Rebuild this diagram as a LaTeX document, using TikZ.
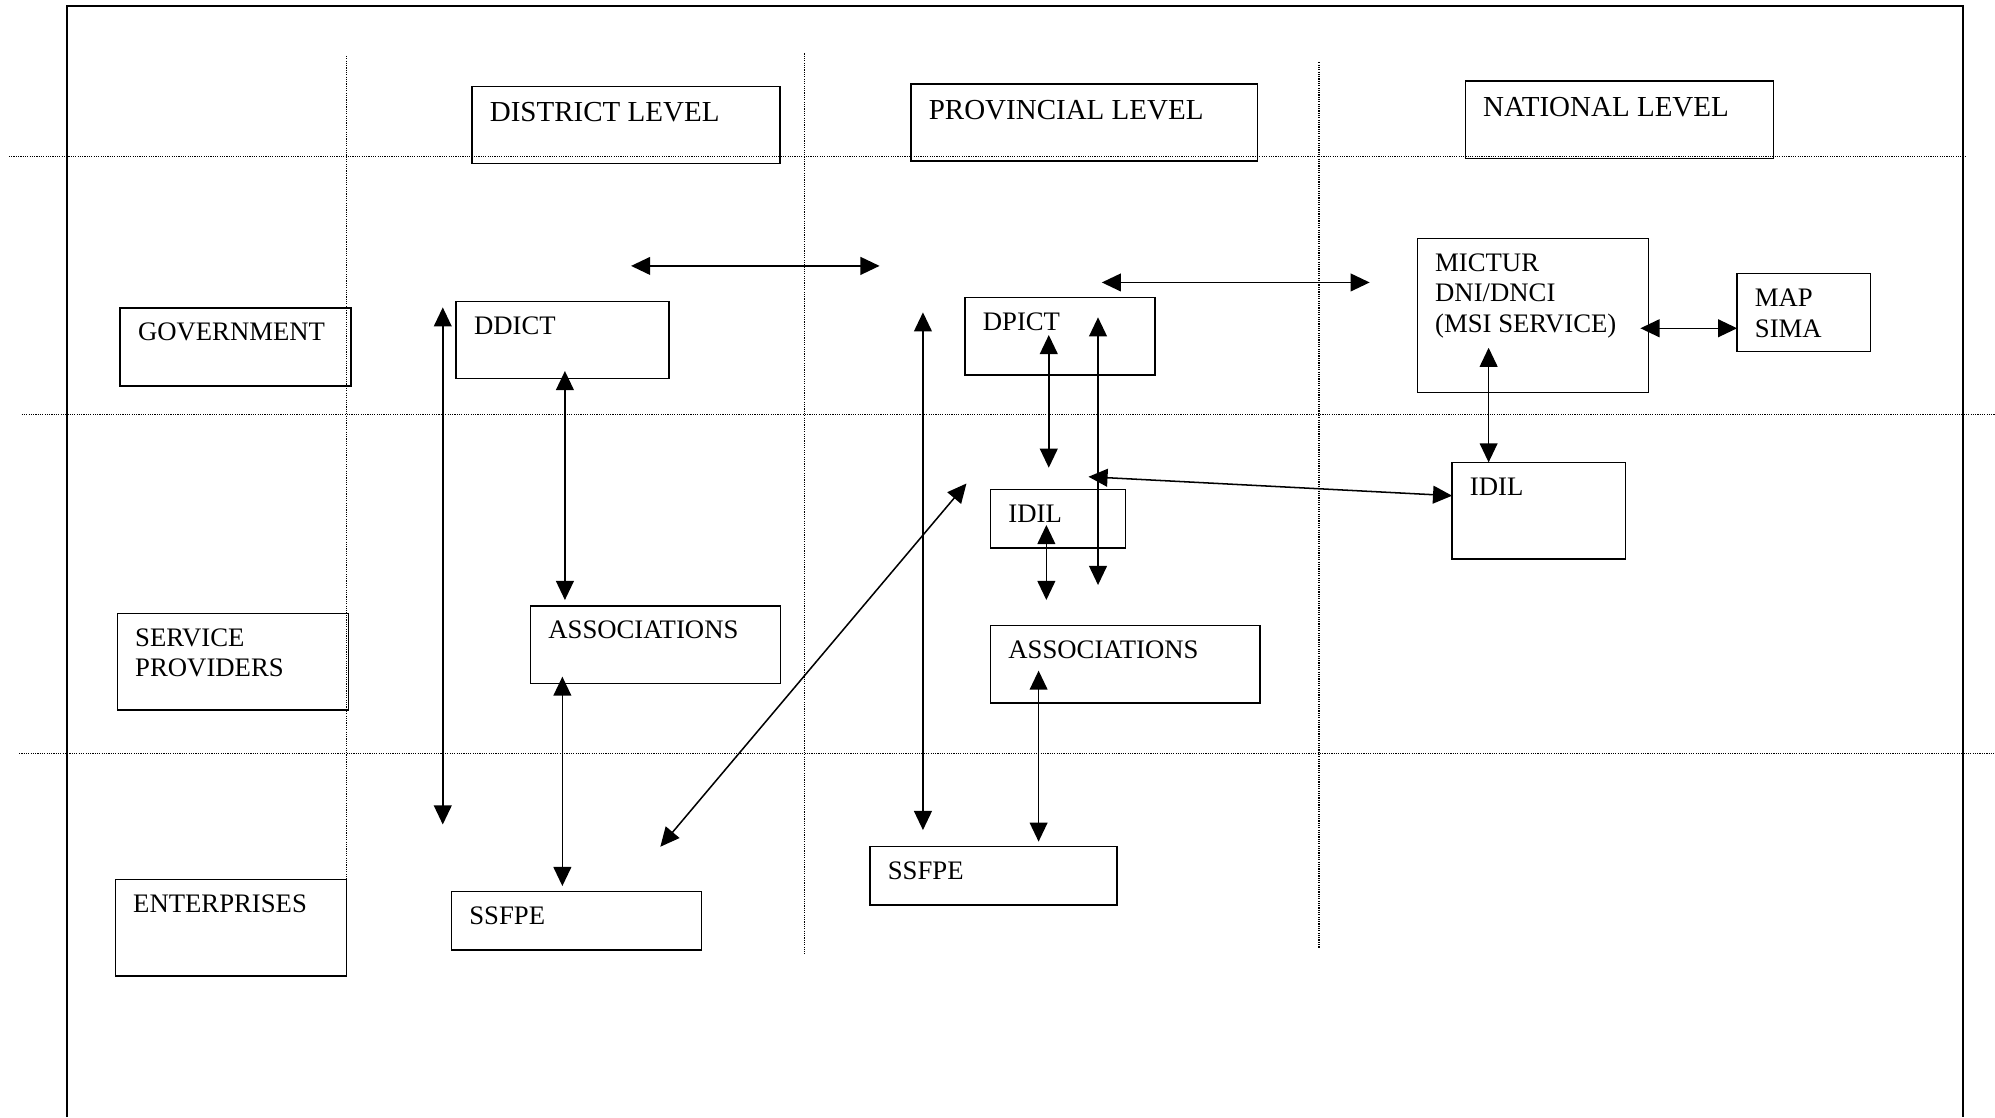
\documentclass[tikz,border=0pt]{standalone}
\usepackage{fontspec}
\setmainfont{Liberation Serif}
\usetikzlibrary{arrows.meta}
\tikzset{
  box/.style={draw, line width=1.2pt, inner sep=0pt, outer sep=0pt, anchor=north west},
  txt/.style={inner sep=0pt, outer sep=0pt, anchor=north west, align=left,
              font=\fontsize{21}{24}\selectfont},
  headtxt/.style={txt, font=\fontsize{22.8}{26}\selectfont},
  gridline/.style={line width=0.9pt, dash pattern=on 0.9pt off 0.9pt, black},
  link/.style={line width=1.2pt,
               {Triangle[length=15pt,width=14pt]}-{Triangle[length=15pt,width=14pt]}},
  framebox/.style={line width=1.5pt}
}
\newcommand\mkbox[6]{%
  \node[box, minimum width={(#4-#2)*1pt}, minimum height={(#5-#3)*1pt}] (#1) at (#2,#3) {};
  \node[txt] (#1-t) at ([shift={(14,12)}]#1.north west) {#6};
}
\newcommand\mkhead[6]{%
  \node[box, minimum width={(#4-#2)*1pt}, minimum height={(#5-#3)*1pt}] (#1) at (#2,#3) {};
  \node[headtxt] (#1-t) at ([shift={(14,12.7)}]#1.north west) {#6};
}
\begin{document}
\begin{tikzpicture}[x=1pt,y=-1pt]
\useasboundingbox (0,0) rectangle (1568,878);
% outer frame (bottom edge lies outside the picture)
\coordinate (f1) at (53,878);
\coordinate (f2) at (53,5);
\coordinate (f3) at (1543,5);
\coordinate (f4) at (1543,878);
\draw[framebox] (f1) -- (f2) -- (f3) -- (f4);
% dotted grid
\coordinate (h1a) at (7,123);   \coordinate (h1b) at (1545,123);
\coordinate (h2a) at (17,326);  \coordinate (h2b) at (1568,326);
\coordinate (h3a) at (15,592);  \coordinate (h3b) at (1568,592);
\coordinate (v1a) at (272.5,44);  \coordinate (v1b) at (272.5,752);
\coordinate (v2a) at (632.6,42);  \coordinate (v2b) at (632.6,750);
\coordinate (v3a) at (1036.7,49); \coordinate (v3b) at (1036.7,745);
\draw[gridline] (h1a) -- (h1b);
\draw[gridline] (h2a) -- (h2b);
\draw[gridline] (h3a) -- (h3b);
\draw[gridline] (v1a) -- (v1b);
\draw[gridline] (v2a) -- (v2b);
\draw[gridline] (v3a) -- (v3b);
% boxes
\mkhead{district}{371}{68}{613}{128.5}{DISTRICT LEVEL}
\mkhead{provincial}{716}{66}{988.5}{126.5}{PROVINCIAL LEVEL}
\mkhead{national}{1151.7}{63.7}{1394}{124.7}{NATIONAL LEVEL}
\mkbox{government}{94.5}{242}{276}{303.4}{GOVERNMENT}
\mkbox{ddict}{358.6}{237}{525.6}{297.6}{DDICT}
\mkbox{dpict}{758.5}{234}{907.8}{294.7}{DPICT}
\mkbox{mictur}{1114}{187.3}{1295.6}{308.6}{MICTUR\\DNI/DNCI\\(MSI SERVICE)}
\mkbox{mapsima}{1365.3}{215.1}{1470.2}{276.4}{MAP\\SIMA}
\mkbox{idilP}{778.6}{384.6}{884.5}{430.5}{IDIL}
\mkbox{idilN}{1141.3}{363.4}{1277.7}{439.4}{IDIL}
\mkbox{service}{92.3}{482}{274}{558}{SERVICE\\PROVIDERS}
\mkbox{assocD}{417}{476.3}{613.5}{537.3}{ASSOCIATIONS}
\mkbox{assocP}{778.6}{491.8}{990.3}{552.5}{ASSOCIATIONS}
\mkbox{enterprises}{90.7}{691.1}{272.2}{767}{ENTERPRISES}
\mkbox{ssfpeD}{354.9}{700.8}{551.4}{746.7}{SSFPE}
\mkbox{ssfpeP}{683.8}{665.2}{878}{711.3}{SSFPE}
% connector end points
\coordinate (a1t) at (348,241.6);   \coordinate (a1b) at (348,648);
\coordinate (a2t) at (444,291.6);   \coordinate (a2b) at (444,471.6);
\coordinate (a3t) at (442,531.8);   \coordinate (a3b) at (442,696.4);
\coordinate (a4l) at (496,209);     \coordinate (a4r) at (691.3,209);
\coordinate (a5l) at (519,665.5);   \coordinate (a5r) at (759.6,380);
\coordinate (a6t) at (725.4,245.5); \coordinate (a6b) at (725.4,652.4);
\coordinate (a7t) at (824.3,263.3); \coordinate (a7b) at (824.3,367.6);
\coordinate (a8t) at (863,249.4);   \coordinate (a8b) at (863,459.8);
\coordinate (a9l) at (855.5,374.7); \coordinate (a9r) at (idilN.west |- 0,389.6);
\coordinate (a10t) at (822.4,412.6); \coordinate (a10b) at (822.4,471.6);
\coordinate (a11t) at (816.3,527.1); \coordinate (a11b) at (816.3,661.5);
\coordinate (a12l) at (866,222);    \coordinate (a12r) at (1076.5,222);
\coordinate (a13l) at (1289.3,258); \coordinate (a13r) at (mapsima.west |- 0,258);
\coordinate (a14t) at (1170,273.3); \coordinate (a14b) at (idilN.north -| 1170,0);
% connectors
\draw[link] (a1t) -- (a1b);
\draw[link] (a2t) -- (a2b);
\draw[link] (a3t) -- (a3b);
\draw[link] (a4l) -- (a4r);
\draw[link] (a5l) -- (a5r);
\draw[link] (a6t) -- (a6b);
\draw[link] (a7t) -- (a7b);
\draw[link] (a8t) -- (a8b);
\draw[link] (a9l) -- (a9r);
\draw[link] (a10t) -- (a10b);
\draw[link] (a11t) -- (a11b);
\draw[link] (a12l) -- (a12r);
\draw[link] (a13l) -- (a13r);
\draw[link] (a14t) -- (a14b);
\end{tikzpicture}
\end{document}
